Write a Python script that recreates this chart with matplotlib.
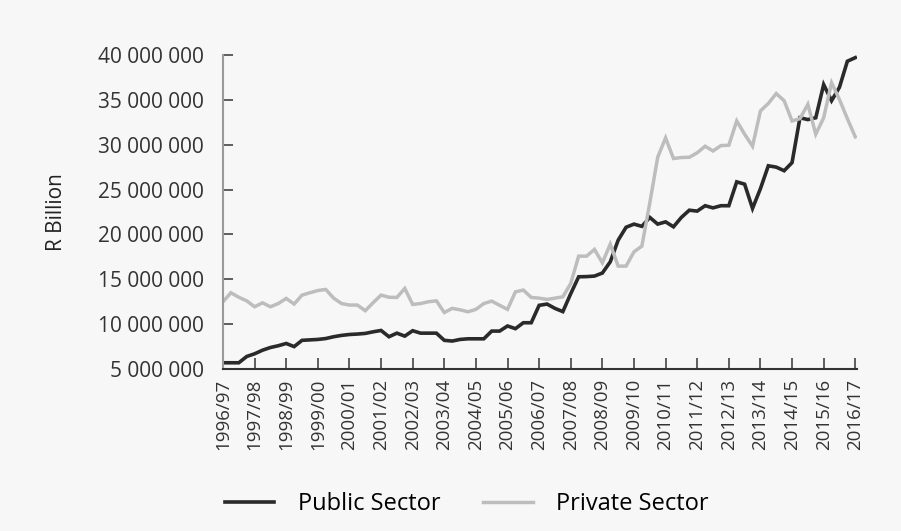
import matplotlib
matplotlib.use("Agg")
import matplotlib.pyplot as plt
from matplotlib.ticker import FuncFormatter, FixedLocator

plt.rcParams['font.family'] = ['Open Sans', 'DejaVu Sans']

# Fiscal-year labels (one tick every 4 quarters)
years = ["1996/97", "1997/98", "1998/99", "1999/00", "2000/01", "2001/02", "2002/03",
         "2003/04", "2004/05", "2005/06", "2006/07", "2007/08", "2008/09", "2009/10",
         "2010/11", "2011/12", "2012/13", "2013/14", "2014/15", "2015/16", "2016/17"]

# Quarterly values, in millions (R)
public_m = [5.7, 5.7, 5.7, 6.4, 6.7, 7.1, 7.4, 7.6, 7.85, 7.5,
            8.2, 8.25, 8.3, 8.4, 8.6, 8.75, 8.85, 8.9, 8.97, 9.15,
            9.3, 8.6, 9.0, 8.67, 9.27, 9.0, 9.0, 9.0, 8.2, 8.12,
            8.3, 8.37, 8.37, 8.37, 9.23, 9.23, 9.8, 9.5, 10.16, 10.16,
            12.1, 12.24, 11.76, 11.4, 13.4, 15.28, 15.3, 15.36, 15.7, 16.95,
            19.36, 20.8, 21.15, 20.9, 21.9, 21.15, 21.4, 20.85, 21.9, 22.7,
            22.6, 23.2, 22.96, 23.2, 23.2, 25.86, 25.6, 22.9, 25.1, 27.65,
            27.5, 27.1, 28.0, 33.0, 32.8, 33.0, 36.7, 34.9, 36.4, 39.3,
            39.7]

private_m = [12.5, 13.5, 13.0, 12.6, 11.94, 12.38, 11.94, 12.3, 12.87, 12.24,
             13.24, 13.5, 13.75, 13.87, 12.9, 12.3, 12.13, 12.13, 11.5, 12.4,
             13.24, 13.0, 12.98, 13.98, 12.2, 12.3, 12.5, 12.6, 11.3, 11.76,
             11.6, 11.38, 11.65, 12.3, 12.57, 12.1, 11.65, 13.6, 13.8, 12.98,
             12.9, 12.76, 12.9, 13.05, 14.54, 17.58, 17.58, 18.33, 16.84, 18.92,
             16.47, 16.47, 18.06, 18.7, 23.5, 28.6, 30.76, 28.46, 28.57, 28.6,
             29.1, 29.83, 29.3, 29.9, 29.94, 32.65, 31.17, 29.83, 33.76, 34.6,
             35.7, 34.9, 32.65, 32.9, 34.5, 31.17, 33.0, 36.9, 35.03, 32.9,
             30.87]

y_ticks = [5e6, 10e6, 15e6, 20e6, 25e6, 30e6, 35e6, 40e6]

public = [v * 1e6 for v in public_m]
private = [v * 1e6 for v in private_m]
x = list(range(len(public)))

bg = "#f7f7f7"
fig = plt.figure(figsize=(9.01, 5.31), dpi=100, facecolor=bg)
ax = fig.add_axes([0.2475, 0.305, 0.7035, 0.5915], facecolor=bg)

ax.plot(x, public, color="#2a2a2a", lw=2.6, label="Public Sector", solid_joinstyle="miter")
ax.plot(x, private, color="#bdbdbd", lw=2.5, label="Private Sector", solid_joinstyle="miter")

ax.set_xlim(0, 80.2)
ax.set_ylim(5e6, 40e6)

ax.xaxis.set_major_locator(FixedLocator([4 * i for i in range(len(years))]))
ax.set_xticklabels(years, rotation=90, fontsize=13.5, color="#333333")
ax.yaxis.set_major_locator(FixedLocator(y_ticks))
ax.yaxis.set_major_formatter(FuncFormatter(lambda v, p: f"{int(round(v)):,}".replace(",", " ")))

ax.tick_params(axis="y", direction="in", length=7, width=1.2, color="#444444",
               labelsize=15, labelcolor="#333333", pad=14)
ax.tick_params(axis="x", direction="in", length=8, width=1.2, color="#444444", pad=7)

for s in ["top", "right"]:
    ax.spines[s].set_visible(False)
ax.spines["left"].set_color("#9a9a9a")
ax.spines["left"].set_linewidth(1.5)
ax.spines["bottom"].set_color("#333333")
ax.spines["bottom"].set_linewidth(1.5)

ax.set_ylabel("R Billion", fontsize=15, color="#222222", labelpad=22)

fig.legend(loc="center", bbox_to_anchor=(0.518, 0.051), ncol=2, frameon=False,
           fontsize=17, handlelength=2.1, handletextpad=1.0, columnspacing=1.8)

fig.savefig("out.png", dpi=100, facecolor=bg)
